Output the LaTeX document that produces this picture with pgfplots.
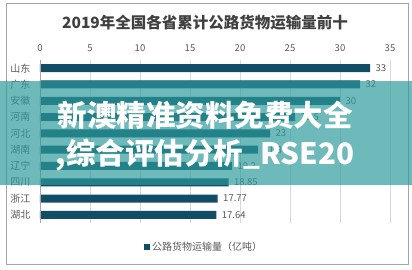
\documentclass[border=0pt]{standalone}
\usepackage{pgfplots}
\pgfplotsset{compat=1.18}
\usepackage{pgfplotstable}
\usepackage{fontspec}
\setmainfont{Noto Sans CJK SC}
\definecolor{bar}{HTML}{124D68}
\definecolor{txt}{HTML}{595959}
\definecolor{band}{HTML}{2A9A9A}
\pgfplotstableread{
idx val lab
9 33 33
8 32 32
7 30 30
6 25.5 25.5
5 23 23
4 21.8 21.8
3 19.2 19.2
2 18.85 18.85
1 17.77 17.77
0 17.64 17.64
}\datatable
\begin{document}
\begin{tikzpicture}
\useasboundingbox (0pt,0pt) rectangle (412pt,269pt);
\draw[color={rgb,255:red,166;green,166;blue,166}, line width=0.8pt] (6pt,5pt) rectangle (408pt,266pt);
\node[font=\bfseries\fontsize{15.5}{18}\selectfont, text={rgb,255:red,64;green,64;blue,64}] at (205pt,246pt) {2019年全国各省累计公路货物运输量前十};
\begin{axis}[
  at={(40pt,46pt)}, anchor=south west,
  scale only axis, width=350pt, height=163pt,
  xbar, bar width=8pt,
  xmin=0, xmax=35, ymin=-0.5, ymax=9.5,
  xtick={0,5,...,35},
  ytick={0,...,9},
  yticklabels={湖北,浙江,四川,辽宁,湖南,河北,河南,安徽,广东,山东},
  xticklabel pos=upper,
  major tick length=0pt,
  axis line style={draw=none},
  xmajorgrids, grid style={color={rgb,255:red,217;green,217;blue,217}, line width=0.6pt},
  /pgf/number format/assume math mode=true,
  ticklabel style={font=\fontsize{9.5}{11}\selectfont, text=txt},
  xticklabel style={yshift=5pt},
  yticklabel style={xshift=-6pt, font=\fontsize{10}{12}\selectfont},
  point meta=explicit symbolic,
  nodes near coords,
  nodes near coords style={anchor=west, xshift=2pt, font=\fontsize{9.5}{11}\selectfont, text=txt},
  legend style={at={(0.469,-0.147)}, anchor=center, draw=none, fill=none, font=\fontsize{10}{12}\selectfont, text=txt},
  legend image code/.code={\fill[bar] (0pt,-3pt) rectangle (6pt,3pt);},
]
\addplot[fill=bar, draw=none] table[x=val, y=idx, meta=lab] {\datatable};
\addlegendentry{公路货物运输量（亿吨）}
\draw[color={rgb,255:red,166;green,166;blue,166}] (rel axis cs:0,0) -- (rel axis cs:0,1);
\end{axis}
\fill[band, fill opacity=0.68] (0pt,84pt) rectangle (412pt,188pt);
\node[font=\bfseries\fontsize{29.5}{32}\selectfont, text=white] at (205pt,154pt) {新澳精准资料免费大全};
\node[font=\bfseries\fontsize{29.5}{32}\selectfont, text=white] at (205pt,114pt) {,综合评估分析\_RSE20};
\end{tikzpicture}
\end{document}
